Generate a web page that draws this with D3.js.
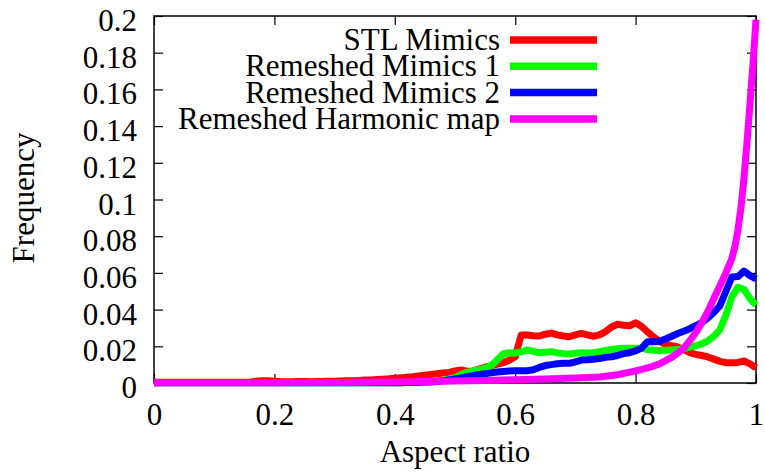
<!DOCTYPE html>
<html>
<head>
<meta charset="utf-8">
<script src="https://cdn.jsdelivr.net/npm/d3@7"></script>
<style>
  html, body { margin: 0; padding: 0; background: #fff; }
  svg { display: block; }
</style>
</head>
<body>
<svg id="chart" width="765" height="472"></svg>
<script>
// Histogram bins of the aspect ratio (0.01 wide)
const bins = [
  0.00,0.01,0.02,0.03,0.04,0.05,0.06,0.07,0.08,0.09,
  0.10,0.11,0.12,0.13,0.14,0.15,0.16,0.17,0.18,0.19,
  0.20,0.21,0.22,0.23,0.24,0.25,0.26,0.27,0.28,0.29,
  0.30,0.31,0.32,0.33,0.34,0.35,0.36,0.37,0.38,0.39,
  0.40,0.41,0.42,0.43,0.44,0.45,0.46,0.47,0.48,0.49,
  0.50,0.51,0.52,0.53,0.54,0.55,0.56,0.57,0.58,0.59,
  0.60,0.61,0.62,0.63,0.64,0.65,0.66,0.67,0.68,0.69,
  0.70,0.71,0.72,0.73,0.74,0.75,0.76,0.77,0.78,0.79,
  0.80,0.81,0.82,0.83,0.84,0.85,0.86,0.87,0.88,0.89,
  0.90,0.91,0.92,0.93,0.94,0.95,0.96,0.97,0.98,0.99,
  1.00
];

const stlMimics = [
  0.0004,0.0004,0.0004,0.0004,0.0004,0.0004,0.0004,0.0004,0.0004,0.0004,
  0.0004,0.0004,0.0004,0.0004,0.0004,0.0004,0.0006,0.0009,0.0012,0.0012,
  0.0010,0.0008,0.0007,0.0007,0.0008,0.0008,0.0007,0.0008,0.0008,0.0009,
  0.0010,0.0011,0.0012,0.0012,0.0014,0.0016,0.0017,0.0019,0.0021,0.0023,
  0.0026,0.0028,0.0031,0.0034,0.0038,0.0042,0.0046,0.0050,0.0054,0.0058,
  0.0066,0.0071,0.0064,0.0066,0.0076,0.0086,0.0094,0.0103,0.0110,0.0124,
  0.0143,0.0262,0.0262,0.0258,0.0256,0.0266,0.0272,0.0262,0.0256,0.0252,
  0.0262,0.0270,0.0262,0.0255,0.0262,0.0280,0.0305,0.0320,0.0315,0.0312,
  0.0328,0.0308,0.0278,0.0250,0.0226,0.0210,0.0203,0.0196,0.0182,0.0166,
  0.0156,0.0150,0.0142,0.0130,0.0118,0.0111,0.0110,0.0112,0.0120,0.0104,
  0.0082
];

const remeshedMimics1 = [
  0.0001,0.0001,0.0001,0.0001,0.0001,0.0001,0.0001,0.0001,0.0001,0.0001,
  0.0001,0.0001,0.0001,0.0001,0.0001,0.0001,0.0001,0.0001,0.0001,0.0001,
  0.0001,0.0001,0.0001,0.0001,0.0001,0.0001,0.0001,0.0001,0.0001,0.0001,
  0.0001,0.0001,0.0001,0.0001,0.0001,0.0001,0.0001,0.0001,0.0001,0.0001,
  0.0002,0.0002,0.0003,0.0004,0.0005,0.0006,0.0008,0.0011,0.0015,0.0020,
  0.0030,0.0045,0.0058,0.0066,0.0072,0.0082,0.0095,0.0125,0.0158,0.0165,
  0.0163,0.0170,0.0180,0.0172,0.0165,0.0168,0.0171,0.0164,0.0160,0.0158,
  0.0162,0.0165,0.0164,0.0165,0.0170,0.0178,0.0183,0.0187,0.0189,0.0189,
  0.0190,0.0189,0.0182,0.0178,0.0176,0.0178,0.0180,0.0182,0.0188,0.0196,
  0.0203,0.0213,0.0230,0.0255,0.0290,0.0370,0.0470,0.0522,0.0510,0.0460,
  0.0425
];

const remeshedMimics2 = [
  0.0001,0.0001,0.0001,0.0001,0.0001,0.0001,0.0001,0.0001,0.0001,0.0001,
  0.0001,0.0001,0.0001,0.0001,0.0001,0.0001,0.0001,0.0001,0.0001,0.0001,
  0.0001,0.0001,0.0001,0.0001,0.0001,0.0001,0.0001,0.0001,0.0001,0.0001,
  0.0001,0.0001,0.0001,0.0001,0.0001,0.0001,0.0001,0.0001,0.0001,0.0001,
  0.0002,0.0002,0.0003,0.0003,0.0004,0.0005,0.0006,0.0008,0.0012,0.0017,
  0.0022,0.0028,0.0034,0.0040,0.0046,0.0050,0.0055,0.0060,0.0063,0.0065,
  0.0067,0.0067,0.0067,0.0072,0.0085,0.0095,0.0100,0.0105,0.0107,0.0107,
  0.0115,0.0125,0.0127,0.0130,0.0133,0.0140,0.0143,0.0150,0.0160,0.0165,
  0.0175,0.0190,0.0225,0.0225,0.0228,0.0240,0.0255,0.0270,0.0282,0.0296,
  0.0312,0.0330,0.0355,0.0385,0.0420,0.0500,0.0578,0.0580,0.0610,0.0585,
  0.0568
];

// The harmonic-map curve is sampled more finely near 1
const harmonicX = [
  0.00,0.10,0.20,0.30,0.40,0.50,0.55,0.60,0.65,0.70,
  0.74,0.77,0.80,0.82,0.84,0.86,0.87,0.88,0.89,0.90,
  0.91,0.92,0.93,0.94,0.95,0.96,0.965,0.97,0.975,0.98,
  0.985,0.99,0.995,1.00
];
const harmonicY = [
  0.0001,0.0001,0.0002,0.0003,0.0006,0.0011,0.0014,0.0018,0.0022,0.0027,
  0.0033,0.0045,0.0066,0.0082,0.0104,0.0140,0.0163,0.0190,0.0230,0.0275,
  0.0328,0.0390,0.0460,0.0530,0.0600,0.0680,0.0745,0.0835,0.0955,0.1115,
  0.1310,0.1520,0.1740,0.1980
];

const seriesNames = ["STL Mimics", "Remeshed Mimics 1", "Remeshed Mimics 2", "Remeshed Harmonic map"];
const seriesColors = ["#ff0000", "#00ff00", "#0000ff", "#ff00ff"];

const xTicks = [0, 0.2, 0.4, 0.6, 0.8, 1];
const xTickLabels = ["0", "0.2", "0.4", "0.6", "0.8", "1"];
const yTicks = [0, 0.02, 0.04, 0.06, 0.08, 0.1, 0.12, 0.14, 0.16, 0.18, 0.2];
const yTickLabels = ["0", "0.02", "0.04", "0.06", "0.08", "0.1", "0.12", "0.14", "0.16", "0.18", "0.2"];

const plot = { left: 154, right: 756, top: 16, bottom: 383 };
const fontSize = 31;
const fontFamily = '"Liberation Serif", "DejaVu Serif", "Noto Serif", Tinos, "Times New Roman", Times, FreeSerif, serif';

const svg = d3.select("#chart");
const x = d3.scaleLinear().domain([0, 1]).range([plot.left, plot.right]);
const y = d3.scaleLinear().domain([0, 0.2]).range([plot.bottom, plot.top]);

// Axes with inward ticks on all four sides
const tickLen = 9;
const gLeft = svg.append("g").attr("transform", `translate(${plot.left},0)`)
  .call(d3.axisLeft(y).tickValues(yTicks).tickFormat((d, i) => yTickLabels[i])
    .tickSize(-tickLen).tickPadding(17));
gLeft.selectAll("text").attr("dy", "0.47em");

svg.append("g").attr("transform", `translate(0,${plot.bottom})`)
  .call(d3.axisBottom(x).tickValues(xTicks).tickFormat((d, i) => xTickLabels[i])
    .tickSize(-tickLen).tickPadding(20));

svg.append("g").attr("transform", `translate(0,${plot.top})`)
  .call(d3.axisTop(x).tickValues(xTicks).tickFormat("").tickSize(-tickLen));
svg.append("g").attr("transform", `translate(${plot.right},0)`)
  .call(d3.axisRight(y).tickValues(yTicks).tickFormat("").tickSize(-tickLen));

svg.selectAll("g").attr("font-family", fontFamily).attr("font-size", fontSize);
svg.selectAll(".domain").remove();
svg.selectAll(".tick line").attr("stroke", "#000").attr("stroke-width", 1.2);
svg.selectAll(".tick text").attr("fill", "#000");

// Frame
svg.append("rect")
  .attr("x", plot.left).attr("y", plot.top)
  .attr("width", plot.right - plot.left).attr("height", plot.bottom - plot.top)
  .attr("fill", "none").attr("stroke", "#000").attr("stroke-width", 1.5);

// Axis titles
svg.append("text")
  .attr("x", (plot.left + plot.right) / 2).attr("y", 462)
  .attr("text-anchor", "middle")
  .attr("font-family", fontFamily).attr("font-size", fontSize)
  .text("Aspect ratio");

svg.append("text")
  .attr("transform", `translate(34,198) rotate(-90)`)
  .attr("text-anchor", "middle")
  .attr("font-family", fontFamily).attr("font-size", fontSize)
  .text("Frequency");

// Data lines
const line = d3.line().x(d => x(d[0])).y(d => y(d[1]));
const seriesData = [
  bins.map((b, i) => [b, stlMimics[i]]),
  bins.map((b, i) => [b, remeshedMimics1[i]]),
  bins.map((b, i) => [b, remeshedMimics2[i]]),
  harmonicX.map((b, i) => [b, harmonicY[i]])
];

seriesData.forEach((pts, i) => {
  svg.append("path")
    .datum(pts)
    .attr("d", line)
    .attr("fill", "none")
    .attr("stroke", seriesColors[i])
    .attr("stroke-width", 7)
    .attr("stroke-linejoin", "round")
    .attr("stroke-linecap", "butt");
});

// Legend
const legend = { textRight: 500, lineX0: 510, lineX1: 597, row0: 40, rowStep: 26.3 };
seriesNames.forEach((name, i) => {
  const ry = legend.row0 + i * legend.rowStep;
  svg.append("text")
    .attr("x", legend.textRight).attr("y", ry + 10)
    .attr("text-anchor", "end")
    .attr("font-family", fontFamily).attr("font-size", fontSize)
    .text(name);
  svg.append("line")
    .attr("x1", legend.lineX0).attr("x2", legend.lineX1)
    .attr("y1", ry).attr("y2", ry)
    .attr("stroke", seriesColors[i]).attr("stroke-width", 7.5);
});
</script>
</body>
</html>
